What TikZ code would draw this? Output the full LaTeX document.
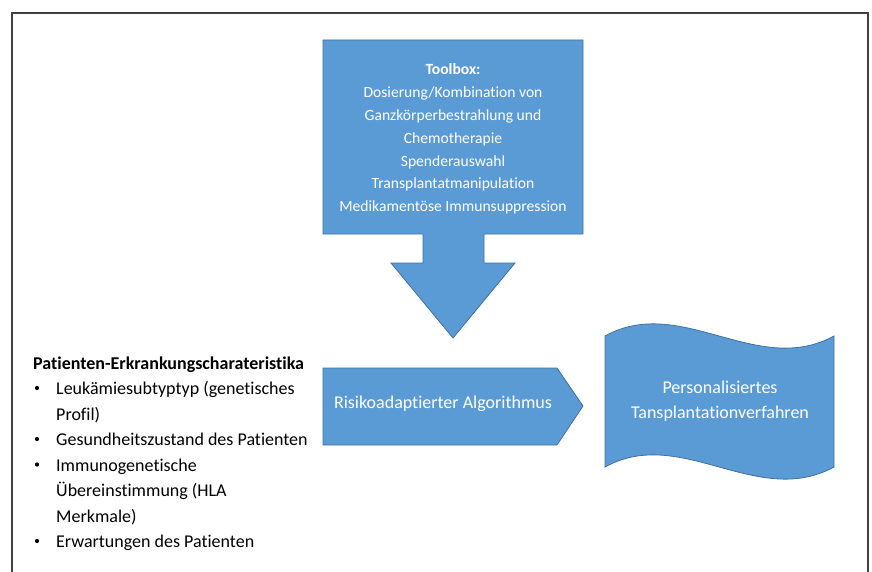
\documentclass[tikz,border=0pt]{standalone}
\usepackage{fontspec}
\setmainfont{Carlito}[Ligatures=NoCommon]
\definecolor{fillblue}{HTML}{5B9BD5}
\definecolor{edgeblue}{HTML}{41719C}
\definecolor{framegray}{HTML}{404040}
\begin{document}
\begin{tikzpicture}[x=1pt,y=-1pt,
  blueshape/.style={fill=fillblue,draw=edgeblue,line width=0.8pt},
  wtext/.style={text=white,align=center,inner sep=0pt},
  ltext/.style={anchor=base west,inner sep=0pt,font=\fontsize{18}{22}\selectfont},
  bullet/.style={circle,fill=black,inner sep=0pt,minimum size=4.2pt}]
\useasboundingbox (0,0) rectangle (872,572);
% frame
\draw[line width=1.5pt,draw=framegray] (12,600) -- (12,13) -- (868,13) -- (868,600);
% toolbox arrow
\path[blueshape] (323,40) -- (583,40) -- (583,234) -- (484,234) -- (484,263) -- (515,263)
  -- (453,338) -- (391,263) -- (423,263) -- (423,234) -- (323,234) -- cycle;
\node[wtext,font=\fontsize{15.6}{22.8}\selectfont] (toolbox) at (453,139)
  {\textbf{Toolbox:}\\Dosierung/Kombination von\\Ganzkörperbestrahlung und\\Chemotherapie\\Spenderauswahl\\Transplantatmanipulation\\Medikamentöse Immunsuppression};
% algorithm pentagon
\path[blueshape] (323,368) -- (557,368) -- (583,406) -- (557,445) -- (323,445) -- cycle;
\node[wtext,font=\fontsize{18}{22}\selectfont] (algo) at (443,404) {Risikoadaptierter Algorithmus};
% wave
\path[blueshape] (605,336) .. controls (681,294) and (757,378) .. (834,336) -- (834,467)
  .. controls (757,509) and (681,425) .. (605,467) -- cycle;
\node[wtext,font=\fontsize{18}{25}\selectfont] (result) at (720,401) {Personalisiertes\\Tansplantationverfahren};
% left text
\node[ltext,font=\fontsize{18}{22}\bfseries] (title) at (33,369) {Patienten-Erkrankungscharateristika};
\node[bullet] (b1) at (37,388) {};
\node[ltext] (t1a) at (56,394.5) {Leukämiesubtyptyp (genetisches};
\node[ltext] (t1b) at (56,420) {Profil)};
\node[bullet] (b2) at (37,439) {};
\node[ltext] (t2) at (56,445.5) {Gesundheitszustand des Patienten};
\node[bullet] (b3) at (37,464.5) {};
\node[ltext] (t3a) at (56,471) {Immunogenetische};
\node[ltext] (t3b) at (56,496.5) {Übereinstimmung (HLA};
\node[ltext] (t3c) at (56,522) {Merkmale)};
\node[bullet] (b4) at (37,541) {};
\node[ltext] (t4) at (56,547.5) {Erwartungen des Patienten};
\end{tikzpicture}
\end{document}
